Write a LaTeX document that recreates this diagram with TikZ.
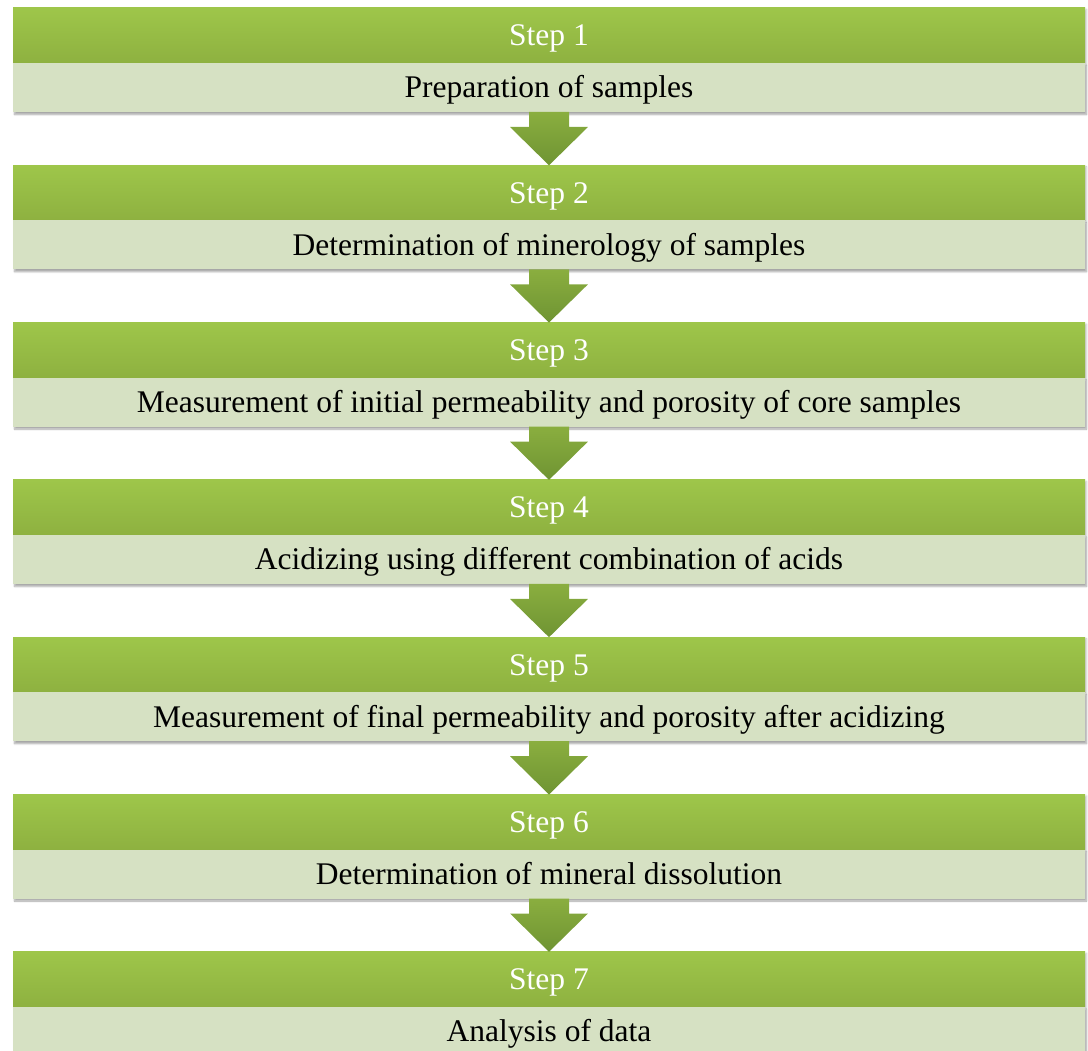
\documentclass[tikz,border=0pt]{standalone}
\usepackage{fontspec}
\setmainfont{Liberation Serif}
\usetikzlibrary{positioning,calc,shadows.blur}

\definecolor{headtop}{HTML}{9EC64A}
\definecolor{headbot}{HTML}{8EB140}
\definecolor{panelfill}{HTML}{D6E1C3}
\definecolor{arrowtop}{HTML}{8AAE3F}
\definecolor{arrowbot}{HTML}{6F9433}

\begin{document}
\begin{tikzpicture}[
    x=1pt, y=1pt,
    % Define styles for the step bars and their panels
    header/.style={minimum width=1072pt, minimum height=55pt, inner sep=0pt, outer sep=0pt,
        top color=headtop, bottom color=headbot, text=white,
        font=\fontsize{31.5}{36}\selectfont, text height=21pt, text depth=0pt,
        blur shadow={shadow xshift=1.5pt, shadow yshift=-1.5pt, shadow blur steps=4, shadow opacity=25}},
    panel/.style={minimum width=1072pt, minimum height=49pt, inner sep=0pt, outer sep=0pt,
        fill=panelfill, text=black,
        font=\fontsize{31.5}{36}\selectfont, text height=21pt, text depth=0pt,
        blur shadow={shadow xshift=1.5pt, shadow yshift=-2.5pt, shadow blur steps=5, shadow opacity=35}},
    % Broad block arrow between two steps
    fatarrow/.style={top color=arrowtop, bottom color=arrowbot,
        to path={($(\tikztostart)+(-20pt,0)$) -- ($(\tikztostart)+(-20pt,-15pt)$)
            -- ($(\tikztostart)+(-39pt,-15pt)$) -- (\tikztotarget)
            -- ($(\tikztostart)+(39pt,-15pt)$) -- ($(\tikztostart)+(20pt,-15pt)$)
            -- ($(\tikztostart)+(20pt,0)$) -- cycle}},
    gap/.style={below=53.3pt of #1}
]

\useasboundingbox (0,0) rectangle (1088,-1051);

% Step bars with their descriptions
\node[header] (step1) at (549,-35.5) {Step 1};
\node[panel, below=0pt of step1] (task1) {Preparation of samples};

\node[header, gap=task1] (step2) {Step 2};
\node[panel, below=0pt of step2] (task2) {Determination of minerology of samples};

\node[header, gap=task2] (step3) {Step 3};
\node[panel, below=0pt of step3] (task3) {Measurement of initial permeability and porosity of core samples};

\node[header, gap=task3] (step4) {Step 4};
\node[panel, below=0pt of step4] (task4) {Acidizing using different combination of acids};

\node[header, gap=task4] (step5) {Step 5};
\node[panel, below=0pt of step5] (task5) {Measurement of final permeability and porosity after acidizing};

\node[header, gap=task5] (step6) {Step 6};
\node[panel, below=0pt of step6] (task6) {Determination of mineral dissolution};

\node[header, gap=task6] (step7) {Step 7};
\node[panel, below=0pt of step7] (task7) {Analysis of data};

% Arrows from each panel down to the next bar
\shade[fatarrow] (task1.south) to (step2.north);
\shade[fatarrow] (task2.south) to (step3.north);
\shade[fatarrow] (task3.south) to (step4.north);
\shade[fatarrow] (task4.south) to (step5.north);
\shade[fatarrow] (task5.south) to (step6.north);
\shade[fatarrow] (task6.south) to (step7.north);

\end{tikzpicture}
\end{document}
